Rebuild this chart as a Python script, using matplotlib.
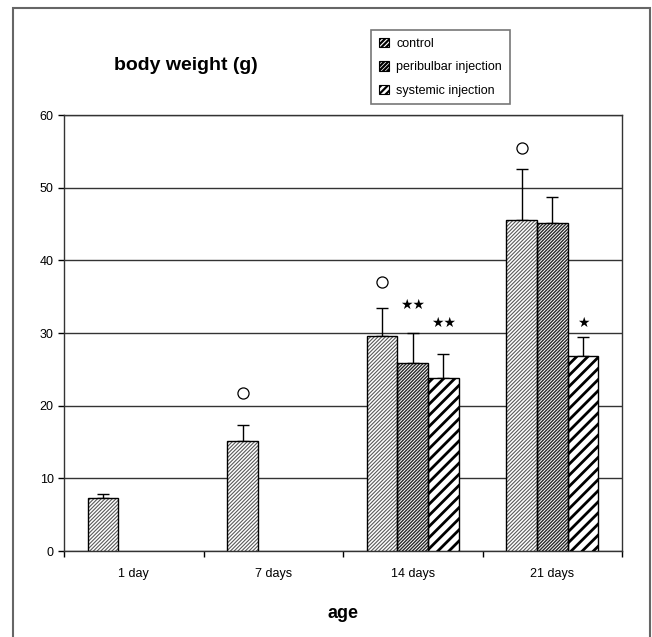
import matplotlib
matplotlib.use("Agg")
import matplotlib.pyplot as plt
from matplotlib.patches import Rectangle, Patch
import numpy as np

plt.rcParams['font.family'] = ['Liberation Sans', 'DejaVu Sans']

# data
ages = ["1 day", "7 days", "14 days", "21 days"]
series = ["control", "peribulbar injection", "systemic injection"]
control = [7.3, 15.2, 29.6, 45.5]
control_err = [0.5, 2.1, 3.9, 7.1]
peribulbar = [np.nan, np.nan, 25.9, 45.1]
peribulbar_err = [np.nan, np.nan, 4.1, 3.6]
systemic = [np.nan, np.nan, 23.8, 26.8]
systemic_err = [np.nan, np.nan, 3.3, 2.6]
# significance marks: (group, series index, y, text)
circles = [(1, 0, 21.8), (2, 0, 37.0), (3, 0, 55.4)]
stars = [(2, 1, 33.9, "★★"), (2, 2, 31.4, "★★"), (3, 2, 31.4, "★")]

fig = plt.figure(figsize=(6.52, 6.37), dpi=100)
# outer frame
fig.patches.append(Rectangle((13 / 652, -0.01), (650 - 13) / 652, 1 - 8 / 637 + 0.01,
                             transform=fig.transFigure, fill=False,
                             edgecolor="#666666", lw=1.5))

ax = fig.add_axes([64 / 652, 1 - 551 / 637, 558 / 652, 436 / 637])

x = np.arange(len(ages))
w = 0.22
offs = [-w, 0, w]
vals = [control, peribulbar, systemic]
errs = [control_err, peribulbar_err, systemic_err]
hatches = ["/" * 9, "/" * 10, "///"]
hcols = ["#5a5a5a", "#2a2a2a", "black"]
hlw = [0.8, 1.0, 2.0]
leg_hatches = ["/" * 7, "/" * 8, "/" * 5]
leg_lw = [0.9, 1.2, 1.6]

handles = []
for i in range(3):
    plt.rcParams['hatch.linewidth'] = hlw[i]
    bars = ax.bar(x + offs[i], vals[i], width=w, color="white",
                  edgecolor=hcols[i], hatch=hatches[i], lw=0, zorder=3)
    for b in bars:
        if hasattr(b, "set_hatch_linewidth"):
            b.set_hatch_linewidth(hlw[i])
    ax.bar(x + offs[i], vals[i], width=w, fill=False, edgecolor="black",
           lw=1, zorder=4)
    e = np.array(errs[i])
    ax.errorbar(x + offs[i], vals[i], yerr=[np.zeros_like(e), e], fmt="none",
                ecolor="black", elinewidth=1, capsize=4, capthick=1, zorder=2)
    plt.rcParams['hatch.linewidth'] = leg_lw[i]
    p = Patch(facecolor="white", edgecolor=hcols[i], hatch=leg_hatches[i],
              lw=0, label=series[i])
    if hasattr(p, "set_hatch_linewidth"):
        p.set_hatch_linewidth(leg_lw[i])
    handles.append(p)

for g, s, y in circles:
    ax.plot(x[g] + offs[s], y, "o", ms=8, mfc="white", mec="black",
            mew=0.9, zorder=5)
for g, s, y, t in stars:
    ax.text(x[g] + offs[s], y, t, ha="center", va="center", fontsize=10,
            family=["DejaVu Sans"], zorder=5)

ax.set_xlim(-0.5, 3.5)
ax.set_ylim(0, 60)
ax.set_yticks(range(0, 61, 10))
ax.yaxis.grid(True, color="#333333", lw=1)
ax.set_axisbelow(True)
ax.set_xticks(x)
ax.set_xticklabels(ages, fontsize=9)
ax.set_xticks(np.arange(-0.5, 3.6, 1), minor=True)
ax.tick_params(axis="x", which="major", length=0, pad=12)
ax.tick_params(axis="x", which="minor", length=4, direction="out", width=1)
ax.tick_params(axis="y", length=4, direction="out", labelsize=9, width=1)
for sp in ax.spines.values():
    sp.set_color("#333333")
    sp.set_linewidth(1)

ax.set_xlabel("age", fontsize=13, fontweight="bold", labelpad=18)
fig.text(186 / 652, 1 - 66 / 637, "body weight (g)", ha="center", va="center",
         fontsize=14, fontweight="bold")

leg = fig.legend(handles=handles, labels=series, loc="upper left",
                 bbox_to_anchor=(365 / 652, 1 - 24 / 637), fontsize=9,
                 frameon=True, fancybox=False, edgecolor="#555555",
                 handlelength=0.8, handleheight=0.8, handletextpad=0.6,
                 labelspacing=0.9, borderpad=0.6)
leg.get_frame().set_linewidth(1.2)
for lp in leg.get_patches():
    lp.set_edgecolor("black")
    lp.set_linewidth(0.8)

fig.savefig("out.png", dpi=100)
